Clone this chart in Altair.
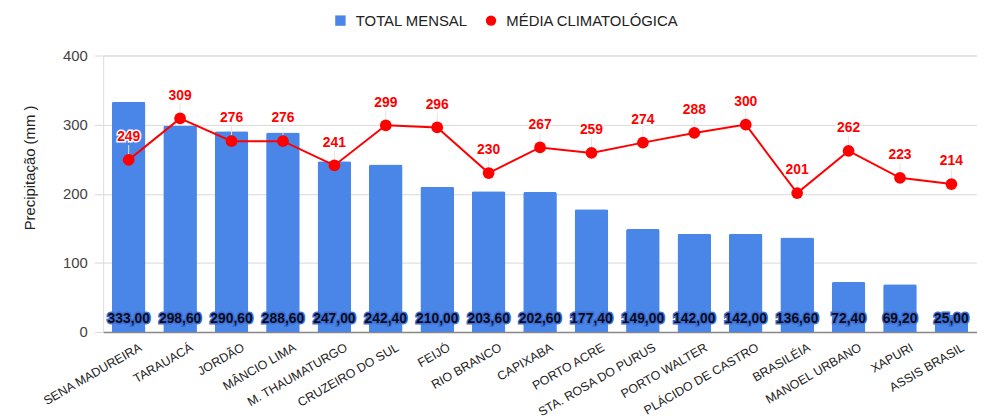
import altair as alt
import pandas as pd

cidades = ["SENA MADUREIRA", "TARAUACÁ", "JORDÃO", "MÂNCIO LIMA", "M. THAUMATURGO",
           "CRUZEIRO DO SUL", "FEIJÓ", "RIO BRANCO", "CAPIXABA", "PORTO ACRE",
           "STA. ROSA DO PURUS", "PORTO WALTER", "PLÁCIDO DE CASTRO", "BRASILÉIA",
           "MANOEL URBANO", "XAPURI", "ASSIS BRASIL"]
total_mensal = [333.0, 298.6, 290.6, 288.6, 247.0, 242.4, 210.0, 203.6, 202.6, 177.4,
                149.0, 142.0, 142.0, 136.6, 72.4, 69.2, 25.0]
media_climatologica = [249, 309, 276, 276, 241, 299, 296, 230, 267, 259, 274, 288, 300,
                       201, 262, 223, 214]
series = ["TOTAL MENSAL", "MÉDIA CLIMATOLÓGICA"]
y_ticks = [0, 100, 200, 300, 400]

BLUE = "#4a86e8"
RED = "#ff0000"
FONT = "Liberation Sans"

df = pd.DataFrame({
    "cidade": cidades,
    "total": total_mensal,
    "media": media_climatologica,
})
df["total_lbl"] = [f"{v:.2f}".replace(".", ",") for v in total_mensal]
df["media_lbl"] = [str(v) for v in media_climatologica]

color_scale = alt.Scale(domain=series, range=[BLUE, RED])
shape_scale = alt.Scale(domain=series, range=["square", "circle"])

x_enc = alt.X("cidade:N", sort=cidades, title=None,
              scale=alt.Scale(paddingInner=0.345, paddingOuter=0.17),
              axis=alt.Axis(labelAngle=-30, labelFontSize=12.5, labelFont=FONT,
                            labelColor="#222222", ticks=False, domain=True,
                            domainColor="#888888", domainWidth=1.5,
                            labelPadding=9, labelOffset=9, labelAlign="right",
                            labelBaseline="top", labelLimit=0))

base = alt.Chart(df)

bars = base.transform_calculate(serie="'TOTAL MENSAL'").mark_bar(
    cornerRadiusTopLeft=2, cornerRadiusTopRight=2
).encode(
    x=x_enc,
    y=alt.Y("total:Q", scale=alt.Scale(domain=[0, 400]),
            title="Precipitação (mm )",
            axis=alt.Axis(values=y_ticks, grid=True, gridColor="#d9d9d9",
                          domain=False, tickColor="#d9d9d9", tickSize=9,
                          labelPadding=7, labelFontSize=15, labelFont=FONT,
                          labelColor="#444444", titleFont=FONT, titleFontSize=15,
                          titleFontWeight="normal", titleColor="#222222",
                          titleAngle=-90, titleX=-74, titleY=113,
                          titleAlign="center", titleBaseline="middle")),
    color=alt.Color("serie:N", scale=color_scale,
                    legend=alt.Legend(title=None, orient="none", direction="horizontal",
                                      legendX=232, legendY=-43, labelFontSize=15,
                                      labelFont=FONT, labelColor="#222222",
                                      labelLimit=0, symbolSize=110, columnPadding=16,
                                      labelOffset=8, symbolStrokeWidth=0)),
    shape=alt.Shape("serie:N", scale=shape_scale, legend=None),
)

bar_lbl_halo = base.mark_text(font=FONT, fontSize=14, fontWeight="bold",
                              baseline="middle", dy=-13, stroke="#3a70d6",
                              strokeWidth=3, fill="#3a70d6").encode(
    x=alt.X("cidade:N", sort=cidades), y=alt.datum(0), text="total_lbl:N")
bar_lbl = base.mark_text(font=FONT, fontSize=14, fontWeight="bold",
                         baseline="middle", dy=-13, color="#0a0a1a").encode(
    x=alt.X("cidade:N", sort=cidades), y=alt.datum(0), text="total_lbl:N")

line = base.mark_line(color=RED, strokeWidth=2).encode(
    x=alt.X("cidade:N", sort=cidades), y="media:Q")

leaders = base.mark_rule(color="#e6e6e6", strokeWidth=1, yOffset=-15, y2Offset=-6).encode(
    x=alt.X("cidade:N", sort=cidades), y="media:Q", y2="media:Q")

points = base.transform_calculate(serie="'MÉDIA CLIMATOLÓGICA'").mark_point(
    filled=True, size=140, opacity=1
).encode(
    x=alt.X("cidade:N", sort=cidades), y="media:Q",
    color=alt.Color("serie:N", scale=color_scale),
    shape=alt.Shape("serie:N", scale=shape_scale),
)

lbl_halo = base.mark_text(font=FONT, fontSize=14, fontWeight="bold", baseline="middle",
                          dy=-23, stroke="white", strokeWidth=3, fill="white").encode(
    x=alt.X("cidade:N", sort=cidades), y="media:Q", text="media_lbl:N")
lbl = base.mark_text(font=FONT, fontSize=14, fontWeight="bold", baseline="middle",
                     dy=-23, color=RED).encode(
    x=alt.X("cidade:N", sort=cidades), y="media:Q", text="media_lbl:N")

chart = alt.layer(bars, bar_lbl_halo, bar_lbl, leaders, line, points, lbl_halo, lbl).properties(
    width=882, height=279,
    autosize=alt.AutoSizeParams(type="none"),
    padding={"left": 96, "top": 46, "right": 0, "bottom": 100},
).configure_view(stroke=None).configure(background="white")

chart.save("out.html", embed_options={"renderer": "svg", "actions": False})
